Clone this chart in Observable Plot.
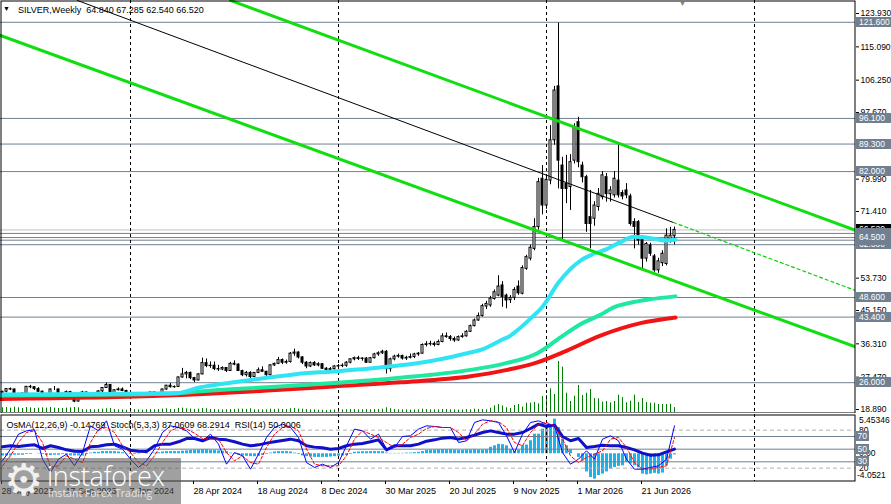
<!DOCTYPE html>
<html>
<head>
<meta charset="utf-8">
<script src="https://cdn.jsdelivr.net/npm/d3@7"></script>
<script src="https://cdn.jsdelivr.net/npm/@observablehq/plot@0.6"></script>
<style>
html,body{margin:0;padding:0;background:#fff;}
#chart{position:relative;width:891px;height:504px;overflow:hidden;font-family:"Liberation Sans",Arial,sans-serif;background:#fff;}
#chart > svg{position:absolute;left:0;top:0;}
#logo{position:absolute;left:0;top:458px;width:181px;height:46px;background:rgba(85,85,85,0.56);overflow:hidden;}
#logo .gear{position:absolute;left:4px;top:-4px;font:44px "DejaVu Sans";color:#f0f0f0;line-height:normal;}
#logo .brand{position:absolute;left:47px;top:-1px;font:300 27px "Open Sans";color:#fff;letter-spacing:-0.3px;line-height:normal;}
#logo .tag{position:absolute;left:48px;top:28px;font:10.5px "Open Sans";color:#e6e6e6;line-height:normal;}
</style>
</head>
<body>
<div id="chart"></div>
<script>
// ---------------- data ----------------
const symbolTitle = "SILVER,Weekly";
const lastOHLC = ["64.840", "67.285", "62.540", "66.520"];
const indicatorTitle = "OsMA(12,26,9) -0.14769  Stoch(5,3,3) 87.0609 68.2914  RSI(14) 50.0006";
const firstWeekUTC = Date.UTC(2023, 4, 28);

const opens = [
23.2,23.6,24.3,24.2,22.4,22.8,23.1,24.9,24.8,24.3, 23.6,22.7,22.7,24.2,24.2,23.0,23.0,23.5,22.2,21.0,
22.8,23.4,23.1,23.2,22.3,23.7,24.6,25.4,23.0,24.0, 24.2,23.8,23.1,23.2,22.6,22.8,22.7,22.2,23.4,22.8,
23.1,24.2,25.2,24.8,24.9,27.4,28.2,28.6,27.2,26.6, 28.2,31.2,30.4,30.5,29.6,29.5,29.9,29.1,31.0,30.8,
29.1,28.0,28.6,27.5,28.6,29.3,28.9,28.0,30.6,31.0, 32.0,31.3,31.5,33.7,34.0,32.7,31.3,30.3,31.2,30.6,
30.9,29.7,29.4,29.6,30.3,30.4,30.5,31.3,32.2,32.5, 32.3,32.4,31.3,32.5,33.5,33.8,34.2,29.6,32.2,32.9,
33.1,32.4,32.6,32.8,33.5,33.7,36.0,36.2,36.3,36.0, 36.8,38.3,38.1,37.6,37.2,38.1,38.3,39.5,41.0,42.5,
43.7,46.2,46.5,48.2,49.1,51.8,49.1,47.9,48.5,51.5, 49.6,56.2,58.9,61.5,67.3,80.1,73.0,79.6,90.3,104.6,
83.6,78.8,77.9,84.9,95.1,83.6,80.5,69.9,69.5,72.6, 75.2,80.5,76.0,75.7,79.6,76.3,77.0,75.4,68.6,68.6,
64.6,58.9,62.4,59.5,55.8,57.7,57.5,63.7,64.84];
const highs = [
23.7,24.4,24.6,24.3,23.2,23.3,25.0,25.3,25.0,24.7, 23.8,23.0,24.3,25.0,24.3,23.3,23.8,23.7,22.4,22.9,
23.7,23.5,23.4,23.3,23.9,24.7,25.9,25.5,24.1,24.6, 24.6,24.0,23.4,23.3,23.1,23.0,22.8,23.5,23.5,23.3,
24.3,25.3,25.8,25.1,27.5,29.8,29.0,28.8,27.4,28.4, 32.5,32.3,31.5,31.5,30.6,30.2,30.0,31.4,31.8,31.0,
29.3,29.0,28.9,28.7,29.9,30.2,29.0,30.8,31.2,32.7, 32.3,32.0,34.0,34.9,34.2,32.9,31.6,31.5,31.6,31.3,
31.1,30.0,30.0,30.5,30.8,31.0,31.6,32.3,32.8,33.0, 32.6,32.7,32.7,33.8,34.2,34.6,34.5,32.5,33.3,33.6,
33.3,33.0,33.6,33.8,34.0,36.3,36.9,37.0,36.8,37.3, 39.0,39.2,38.5,38.1,38.4,39.0,39.8,41.3,42.9,44.5,
46.8,47.6,48.9,50.6,54.4,52.8,49.5,49.1,51.2,53.0, 57.0,59.8,62.5,69.5,80.2,83.6,81.0,94.2,104.6,121.4,
85.8,86.3,86.5,94.7,96.4,84.5,81.0,77.0,74.0,77.5, 82.0,81.5,78.0,82.0,89.4,77.0,78.8,76.0,69.5,69.0,
65.0,63.2,63.0,60.0,59.0,61.0,66.8,67.2,67.285];
const lows = [
22.7,23.3,23.9,22.2,22.1,22.5,23.0,24.4,23.9,23.4, 22.5,22.2,22.6,23.9,22.9,22.6,22.9,22.1,20.7,20.9,
22.4,22.6,22.6,22.1,22.2,23.4,24.5,22.9,22.7,23.8, 23.6,22.7,22.5,22.3,22.5,22.3,22.0,22.1,22.5,22.5,
22.9,24.0,24.6,24.5,24.8,27.2,27.0,26.8,26.0,26.5, 28.1,30.0,29.8,29.2,29.0,29.2,28.7,29.0,30.5,29.0,
27.6,27.5,26.5,27.3,28.4,28.8,27.7,27.8,30.3,30.8, 30.8,30.9,31.2,33.0,32.3,30.8,29.7,30.0,30.3,30.2,
29.5,29.1,28.8,29.3,29.9,30.0,30.1,31.0,31.8,31.9, 31.7,31.1,31.2,32.3,33.0,33.5,28.3,28.8,31.8,32.5,
32.0,31.9,32.3,32.4,33.0,33.6,35.5,35.7,35.5,35.8, 36.6,37.8,37.0,36.7,37.0,37.8,38.1,39.3,40.8,42.3,
43.4,45.4,46.0,47.9,48.8,46.0,45.6,47.0,47.8,49.2, 49.3,55.8,58.3,61.0,66.5,70.5,72.0,78.5,89.0,77.4,
63.7,73.5,71.7,84.0,83.0,79.0,65.9,61.5,67.5,71.5, 74.5,73.9,73.9,75.0,75.0,74.5,74.8,67.5,61.5,62.5,
56.3,58.0,59.5,55.3,55.0,56.8,57.0,63.0,62.54];
const closes = [
23.6,24.3,24.2,22.4,22.8,23.1,24.9,24.8,24.3,23.6, 22.7,22.7,24.2,24.2,23.0,23.0,23.5,22.2,21.0,22.8,
23.4,23.1,23.2,22.3,23.7,24.6,25.4,23.0,24.0,24.2, 23.8,23.1,23.2,22.6,22.8,22.7,22.2,23.4,22.8,23.1,
24.2,25.2,24.8,24.9,27.4,28.2,28.6,27.2,26.6,28.2, 31.2,30.4,30.5,29.6,29.5,29.9,29.1,31.0,30.8,29.1,
28.0,28.6,27.5,28.6,29.3,28.9,28.0,30.6,31.0,32.0, 31.3,31.5,33.7,34.0,32.7,31.3,30.3,31.2,30.6,30.9,
29.7,29.4,29.6,30.3,30.4,30.5,31.3,32.2,32.5,32.3, 32.4,31.3,32.5,33.5,33.8,34.2,29.6,32.2,32.9,33.1,
32.4,32.6,32.8,33.5,33.7,36.0,36.2,36.3,36.0,36.8, 38.3,38.1,37.6,37.2,38.1,38.3,39.5,41.0,42.5,43.7,
46.3,46.9,48.3,50.0,51.5,48.7,47.8,48.5,50.6,49.7, 56.4,59.3,61.8,67.3,79.2,73.0,79.8,90.3,103.5,84.9,
77.4,77.4,84.5,93.8,84.5,80.5,68.1,68.1,73.0,76.1, 81.0,76.0,77.0,80.1,75.7,75.4,75.7,68.1,67.3,63.7,
58.9,62.8,60.2,55.8,58.2,60.2,65.0,65.0,66.52];
const volumes = [
14,15,13,16,14,12,15,14,12,13, 14,13,15,13,12,12,13,14,15,14,
9,8,9,8,9,10,11,12,9,8, 8,7,8,9,8,7,8,9,8,9,
10,11,9,9,12,13,11,10,9,10, 12,11,9,9,8,8,8,9,9,10,
10,9,11,8,8,8,8,10,9,10, 9,9,11,12,10,10,9,8,8,7,
7,6,7,8,8,8,8,9,9,8, 8,9,8,9,9,10,14,11,9,8,
8,8,7,8,8,10,9,8,8,8, 9,9,8,8,7,8,9,
8,10,9,9,8,13,20,24,20,14, 12,21,24,16,28,28,30,26,48,51,
71,54,153,136,58,33,49,81,51,58, 69,42,41,31,33,29,33,52,45,29,
34,52,30,42,30,28,28,24,24,24, 25,15];

// moving averages (week index, value)
const maFastWeeks = [-0.5,20,43.7,49.5,53.7,57.8,66.2,72.8,82.8,91.2,99.5,107.8,116.2,120.3,124.5,127,129.5,132,134.9,139.1,144.5,147.8,151.2,154.5,157.8,160.3,162.8,166.2,168.25];
const maFastValues = [22.9,23.0,23.2,24.8,25.5,26.1,27.3,28.2,29.0,29.7,30.6,31.9,33.8,35.0,37.2,38.5,40.6,43.0,46.0,52.7,58.4,60.2,61.5,63.3,64.7,64.6,64.2,63.7,63.9];
const maMidWeeks = [-0.5,24.5,43.7,49.5,66.2,82.8,99.5,117,125.2,133.7,139.5,144.5,149.5,152.8,157,161.2,168.25];
const maMidValues = [22.6,22.8,23.2,23.7,24.8,25.9,27.3,29.4,31.0,33.8,38.0,41.5,44.0,46.0,47.2,48.0,48.9];
const maSlowWeeks = [-0.5,41.2,66.2,82.8,99.5,117,125.2,133.7,140.2,149.5,159.5,168.25];
const maSlowValues = [21.7,22.6,23.9,25.0,26.1,27.7,29.2,31.4,34.1,38.5,41.8,43.3];

// trend lines (week index, price)
const channelUpperWeeks = [57, 213.25], channelUpperPrices = [127.4, 66.4];
const channelLowerWeeks = [-0.5, 213.25], channelLowerPrices = [118.1, 35.5];
const trendWeeks = [18.75, 167.75], trendPrices = [127.38, 68.49];
const trendExtWeeks = [167.75, 213.25], trendExtPrices = [68.49, 50.46];

const priceTicks = [123.93,115.09,106.25,97.67,88.83,79.99,71.41,62.57,53.73,45.15,36.31,27.47,18.89];
const levelPrices = [121.6, 96.1, 89.3, 82.0, 65.6, 64.5, 63.8, 62.6, 48.6, 43.4, 26.0];
const levelLabels = ["121.600","96.100","89.300","82.000","","64.500","","62.600","48.600","43.400","26.000"];
const bidPrice = 66.52, bidLabel = "66.520";
const dateTickWeeks = [0,16,32,48,64,80,96,112,128,144,160];
const separatorWeeks = [32, 84, 136, 188];

// oscillators
const osma = [
-0.3,-0.3,-0.3,-0.2,-0.2,-0.2,-0.1,-0.1,0,0.05,
-0.1,-0.2,-0.25,-0.2,-0.2,-0.1,-0.2,-0.3,-0.3,-0.3,
-0.3,-0.1,0.1,0.2,0.2,0.3,0.3,0.3,0.3,0.25,
0.15,0.05,-0.1,-0.1,-0.05,0,-0.05,0.05,0.1,0.15,
0.25,0.3,0.3,0.3,0.3,0.35,0.4,0.45,0.5,0.5,
0.55,0.55,0.5,0.45,0.4,0.35,0.3,0.1,-0.1,-0.2,
-0.3,-0.35,-0.4,-0.4,-0.35,-0.25,-0.1,0.1,0.25,0.3,
0.3,0.3,0.25,0.1,-0.1,-0.3,-0.4,-0.45,-0.5,-0.5,
-0.5,-0.5,-0.45,-0.4,-0.35,-0.3,-0.25,-0.1,0.2,0.25,
0.28,0.28,0.3,0.3,0.3,0.3,0.1,0.05,0.05,0.05,
0.05,0.1,0.1,0.15,0.2,0.3,0.45,0.5,0.5,0.55,
0.55,0.55,0.55,0.5,0.45,0.45,0.5,0.5,0.55,0.5,
0.5,0.55,0.9,1.1,1.3,1.25,1.1,0.6,0.3,0.5,
1.1,1.2,1.8,2.7,2.7,3.4,3.85,4.0,4.77,3.6,
2.0,1.1,0.55,0,-0.5,-1.0,-2.5,-3.26,-3.49,-3.0,
-2.8,-2.5,-2.1,-1.9,-1.74,-1.65,-1.2,-1.4,-1.65,-1.9,
-2.8,-2.9,-2.8,-2.7,-2.8,-2.66,-1.65,-0.73,-0.148];
const oscStepWeeks = 2; // oscillator lines sampled every second week
const stochMain = [31.6,50,73.7,78.9,80.5,34.2,13.2,34.2,42.1,23.7,44.7,86.8,78.9,94.7,55.3,50,34.2,21.1,31.6,50,76.3,86.8,84.2,78.9,66.8,63.2,73.7,57.9,26.3,44.7,39.5,18.4,42.1,68.4,84.2,89.5,84.2,68.4,28.9,21.1,26.3,21.1,28.9,
55.3,81.6,78.9,65.8,73.7,50,52.6,70,71.1,81.6,86.8,85.8,84.2,84.2,60.5,63.2,92.1,96.3,94.7,92.1,71.1,44.7,73.7,92.1,94.7,89.5,86.8,44.7,26.3,34.2,47.4,34.2,65.8,71.1,63.2,34.2,18.4,18.4,21.1,23.7,34.2,86.8];
const stochSignal = [23.7,39.5,60.5,76.3,78.9,60.5,21.1,23.7,39.5,34.2,28.9,60.5,81.6,84.2,76.3,55.3,44.7,28.9,23.7,39.5,60.5,78.9,84.2,81.6,75.3,66.8,65.8,65.8,44.7,31.6,39.5,28.9,26.3,52.6,73.7,84.2,86.8,78.9,50,26.3,23.7,23.7,23.7,
39.5,65.8,78.9,73.7,68.4,60.5,52.6,57.9,68.4,73.7,82.6,85.8,84.2,84.2,76.3,63.2,73.7,89.5,94.7,93.2,84.2,60.5,55.3,76.3,89.5,92.1,86.8,65.8,39.5,28.9,36.8,42.1,47.4,65.8,68.4,52.6,28.9,18.4,18.4,21.1,23.7,68.4];
const rsi = [53.7,55.3,54.2,55.8,56.8,51.1,55.3,52.6,48.9,46.8,46.3,53.7,54.7,56.8,57.9,53.7,48.4,46.8,46.3,55.3,57.9,57.9,61.6,66.8,66.8,63.2,68.4,65.8,64.7,61.6,57.9,55.3,56.8,59.5,61.6,63.7,65.8,63.2,55.3,53.2,52.1,50,51.1,
55.3,57.9,58.9,61.6,64.7,48.9,55.3,55.3,55.3,57.9,62.6,64.7,67.4,68.4,65.8,68.4,72.1,76.3,78.9,76.3,73.7,73.7,76.3,82.6,89.5,85.8,87.9,70,63.2,66.8,52.6,54.2,56.3,55.3,55.3,52.6,48.9,43.7,40.5,41.1,45.8,50];
const stochLevels = [80, 20];
const rsiLevels = [70, 50, 30];
const osmaMaxLabel = "5.45346", osmaMinLabel = "-4.0521", osmaZeroLabel = "0.00";

// ---------------- build ----------------
const dateAt = w => new Date(firstWeekUTC + w * 7 * 864e5);
const xDomain = [dateAt(-0.5), dateAt(213.25)];
const FONT = "Liberation Sans, Arial, sans-serif";
const base = {width: 891, marginLeft: 0, marginRight: 36};

const candles = closes.map((c, i) => ({i, date: dateAt(i), open: opens[i], high: highs[i], low: lows[i], close: c}));
const up = candles.filter(d => d.close >= d.open);
const down = candles.filter(d => d.close < d.open);
const toPts = (ws, vs) => ws.map((w, k) => ({date: dateAt(w), v: vs[k]}));
const vols = volumes.map((v, i) => ({date: dateAt(i), v}));
const osc = stochMain.map((m, k) => ({date: dateAt(k * oscStepWeeks), main: m, sig: stochSignal[k], rsi: rsi[k]}));
const osmaData = osma.map((v, i) => ({date: dateAt(i), v}));
const seps = separatorWeeks.map(dateAt);

const chart = document.getElementById("chart");

// volume overlay (own scale) at the bottom of the price panel
const volPlot = Plot.plot({
  ...base, height: 413, marginTop: 361, marginBottom: 1,
  x: {type: "utc", domain: xDomain, axis: null},
  y: {domain: [0, 153], axis: null},
  style: {background: "transparent"},
  marks: [Plot.ruleX(vols, {x: "date", y1: 0, y2: "v", stroke: "#008000", strokeWidth: 1})]
});
chart.appendChild(volPlot);

const mainPlot = Plot.plot({
  ...base, height: 413, marginTop: 0, marginBottom: 0,
  x: {type: "utc", domain: xDomain, axis: null},
  y: {domain: [17.83, 127.38]},
  style: {background: "transparent", fontFamily: FONT, fontSize: "8.5px", color: "black"},
  marks: [
    Plot.ruleY(levelPrices, {stroke: "#708090"}),
    Plot.ruleY([bidPrice], {stroke: "#c0c0c0"}),
    Plot.ruleX(seps, {stroke: "black", strokeDasharray: "3,3"}),
    Plot.ruleX(candles, {x: "date", y1: "low", y2: "high", stroke: "black"}),
    Plot.rect(up, {x1: d => dateAt(d.i - 0.25), x2: d => dateAt(d.i + 0.25), y1: "open", y2: "close", fill: "white", stroke: "black"}),
    Plot.rect(down, {x1: d => dateAt(d.i - 0.25), x2: d => dateAt(d.i + 0.25), y1: "open", y2: "close", fill: "black", stroke: "black"}),
    Plot.line(toPts(maSlowWeeks, maSlowValues), {x: "date", y: "v", stroke: "#f01414", strokeWidth: 4, curve: "monotone-x"}),
    Plot.line(toPts(maMidWeeks, maMidValues), {x: "date", y: "v", stroke: "#1fe8a0", strokeWidth: 4, curve: "monotone-x"}),
    Plot.line(toPts(maFastWeeks, maFastValues), {x: "date", y: "v", stroke: "#30e4f4", strokeWidth: 4, curve: "monotone-x"}),
    Plot.line(toPts(channelUpperWeeks, channelUpperPrices), {x: "date", y: "v", stroke: "#10de10", strokeWidth: 3, clip: true}),
    Plot.line(toPts(channelLowerWeeks, channelLowerPrices), {x: "date", y: "v", stroke: "#10de10", strokeWidth: 3, clip: true}),
    Plot.line(toPts(trendWeeks, trendPrices), {x: "date", y: "v", stroke: "black", strokeWidth: 1, clip: true}),
    Plot.line(toPts(trendExtWeeks, trendExtPrices), {x: "date", y: "v", stroke: "#00d000", strokeWidth: 1.2, strokeDasharray: "3,3", clip: true}),
    Plot.frame({stroke: "black", inset: 0.5}),
    Plot.axisY(priceTicks, {anchor: "right", tickSize: 3, tickPadding: 2, tickFormat: d3.format(".3f"), label: null, fontSize: 8.5})
  ]
});
chart.appendChild(mainPlot);

// price labels on the axis
{
  const ys = mainPlot.scale("y");
  const g = d3.select(mainPlot).append("g").attr("font-family", FONT).attr("font-size", "8.5px").attr("text-anchor", "start");
  const box = (v, label, fill) => {
    const y = Math.round(ys.apply(v));
    g.append("rect").attr("x", 856).attr("y", y - 5).attr("width", 35).attr("height", 10).attr("fill", fill);
    if (label) g.append("text").attr("x", 859).attr("y", y + 3.2).attr("fill", "white").text(label);
  };
  box(bidPrice, bidLabel, "black");
  const order = [0, 1, 2, 3, 8, 9, 10, 4, 7, 6, 5];
  order.forEach(k => box(levelPrices[k], levelLabels[k], "#708090"));
  const t = d3.select(mainPlot).append("g").attr("font-family", FONT).attr("text-anchor", "start");
  t.append("text").attr("x", 3).attr("y", 11).attr("font-size", "7px").text("▼");
  t.append("text").attr("x", 18).attr("y", 13).attr("font-size", "9px").style("white-space", "pre")
    .text(symbolTitle + "  " + lastOHLC.join(" "));
  t.append("text").attr("x", 679).attr("y", 6).attr("font-size", "7px").attr("fill", "#808080").text("▼");
}

// OsMA histogram (own scale) in the indicator panel
const osmaPlot = Plot.plot({
  ...base, height: 504, marginTop: 414, marginBottom: 23,
  x: {type: "utc", domain: xDomain, axis: null},
  y: {domain: [-3.82, 5.41], axis: null},
  style: {background: "transparent"},
  marks: [Plot.ruleX(osmaData, {x: "date", y1: 0, y2: "v", stroke: "#1cb2ec", strokeWidth: 3})]
});
chart.appendChild(osmaPlot);

const indPlot = Plot.plot({
  ...base, height: 504, marginTop: 414, marginBottom: 23,
  x: {type: "utc", domain: xDomain},
  y: {domain: [-1.05, 104.7], axis: null},
  style: {background: "transparent", fontFamily: FONT, fontSize: "9px", color: "black"},
  marks: [
    Plot.ruleY(stochLevels, {stroke: "#b0b0b0", strokeDasharray: "4,3"}),
    Plot.ruleY(rsiLevels, {stroke: "#708090"}),
    Plot.ruleX(seps, {stroke: "black", strokeDasharray: "3,3"}),
    Plot.line(osc, {x: "date", y: "rsi", stroke: "#1010c8", strokeWidth: 3}),
    Plot.line(osc, {x: "date", y: "main", stroke: "#0000ff", strokeWidth: 1}),
    Plot.line(osc, {x: "date", y: "sig", stroke: "#ff0000", strokeWidth: 1, strokeDasharray: "3,2"}),
    Plot.frame({stroke: "black", inset: 0.5}),
    Plot.axisX(dateTickWeeks.map(dateAt), {anchor: "bottom", tickSize: 3, tickPadding: 3, tickFormat: d3.utcFormat("%-d %b %Y"), textAnchor: "start", dx: -1, label: null, fontSize: 9})
  ]
});
chart.appendChild(indPlot);

{
  const ys = indPlot.scale("y");
  const os = osmaPlot.scale("y");
  const g = d3.select(indPlot).append("g").attr("font-family", FONT).attr("font-size", "8.5px").attr("text-anchor", "start");
  stochLevels.forEach(v => g.append("text").attr("x", 859).attr("y", Math.round(ys.apply(v)) + 3).text(String(v)));
  g.append("text").attr("x", 859).attr("y", Math.round(os.apply(0)) + 3).text(osmaZeroLabel);
  rsiLevels.forEach(v => {
    const y = Math.round(ys.apply(v));
    g.append("rect").attr("x", 856).attr("y", y - 5).attr("width", 13).attr("height", 10).attr("fill", "#708090");
    g.append("text").attr("x", 857.5).attr("y", y + 3.2).attr("fill", "white").text(String(v));
  });
  g.append("text").attr("x", 859).attr("y", 423).text(osmaMaxLabel);
  g.append("text").attr("x", 857).attr("y", 478).text(osmaMinLabel);
  d3.select(indPlot).append("text").attr("x", 6.5).attr("y", 428).attr("font-family", FONT).attr("text-anchor", "start")
    .attr("font-size", "9px").style("white-space", "pre").text(indicatorTitle);
}

// watermark
const logo = document.createElement("div");
logo.id = "logo";
logo.innerHTML = '<span class="gear">⚙</span><span class="brand">instaforex</span><span class="tag">Instant Forex Trading</span>';
chart.appendChild(logo);
</script>
</body>
</html>
